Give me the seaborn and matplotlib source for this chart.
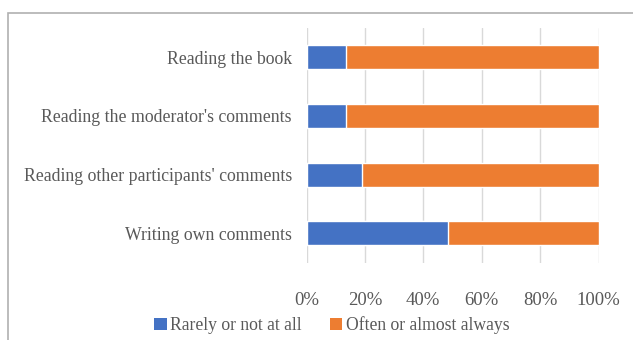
import matplotlib
matplotlib.use("Agg")
import matplotlib.pyplot as plt
from matplotlib.patches import Rectangle, Patch
import seaborn as sns
import pandas as pd

activities = [
    "Reading the book",
    "Reading the moderator's comments",
    "Reading other participants' comments",
    "Writing own comments",
]
rarely = [13.5, 13.5, 19.0, 48.5]
often = [86.5, 86.5, 81.0, 51.5]
xticks = [0, 20, 40, 60, 80, 100]
xtick_labels = ["0%", "20%", "40%", "60%", "80%", "100%"]
series_names = ["Rarely or not at all", "Often or almost always"]

BLUE = "#4472c4"
ORANGE = "#ed7d31"
TEXT = "#595959"

sns.set_theme(style="white")
plt.rcParams["font.family"] = ["Liberation Serif", "DejaVu Serif"]

df = pd.DataFrame({
    "activity": activities,
    "rarely": rarely,
    "total": [r + o for r, o in zip(rarely, often)],
})

W, H = 633, 340
fig = plt.figure(figsize=(W / 100, H / 100), dpi=100)
ax = fig.add_axes([306.5 / W, 1 - 262.5 / H, 292 / W, 234.5 / H])

sns.barplot(data=df, y="activity", x="total", color=ORANGE, orient="h",
            width=0.41, saturation=1, ax=ax, zorder=3)
sns.barplot(data=df, y="activity", x="rarely", color=BLUE, orient="h",
            width=0.41, saturation=1, ax=ax, zorder=4)

ax.set_xlim(0, 100)
ax.set_ylim(3.5, -0.5)
ax.set_xticks(xticks)
ax.set_xticklabels(xtick_labels)
ax.set_xlabel("")
ax.set_ylabel("")
ax.grid(axis="x", color="#d9d9d9", linewidth=1.0, zorder=0)
ax.grid(axis="y", visible=False)
for s in ax.spines.values():
    s.set_visible(False)
ax.tick_params(axis="x", length=0, pad=21, labelsize=13.5, labelcolor=TEXT)
ax.tick_params(axis="y", length=0, pad=10.5, labelsize=12.8, labelcolor=TEXT)

handles = [Patch(facecolor=BLUE, edgecolor="none"),
           Patch(facecolor=ORANGE, edgecolor="none")]
fig.legend(handles, series_names, loc="center", bbox_to_anchor=(332 / W, 1 - 325.5 / H),
           ncol=2, frameon=False, fontsize=12.7, labelcolor=TEXT,
           handlelength=0.7, handleheight=0.7, handletextpad=0.2, columnspacing=1.6)

fig.patches.append(Rectangle((8 / W, -0.1), 1.2, 1.1 - 12.5 / H, transform=fig.transFigure,
                             fill=False, edgecolor="#b0b0b0", linewidth=1.2))

fig.savefig("out.png", dpi=100, facecolor="white")
